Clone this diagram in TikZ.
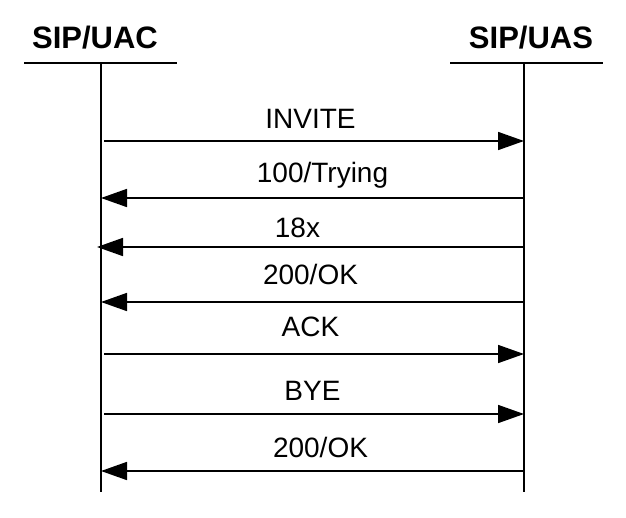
\documentclass[tikz,border=0pt]{standalone}
\usepackage{fontspec}
\setmainfont{Liberation Sans}
\usetikzlibrary{positioning,arrows.meta}

\begin{document}
\begin{tikzpicture}[x=1pt,y=-1pt,
		actor/.style={font=\fontsize{31}{34}\selectfont\bfseries, inner sep=0pt},
		lifeline/.style={line width=1.7pt},
		msg/.style={line width=1.7pt, -{Triangle[length=26pt,width=18pt]}},
		msglabel/.style={font=\fontsize{28}{30}\selectfont, midway, anchor=base, inner sep=0pt}
	]
	\useasboundingbox (0,0) rectangle (626,517);
	% parties
	\node[actor] (uac) at (95,38) {SIP/UAC};
	\node[actor] (uas) at (531,38) {SIP/UAS};
	\coordinate (uacbarl) at (24,63);
	\coordinate (uacbarr) at (177,63);
	\coordinate (uasbarl) at (450,63);
	\coordinate (uasbarr) at (603,63);
	\coordinate (uactop) at (101,63);
	\coordinate (uacbot) at (101,492);
	\coordinate (uastop) at (524,63);
	\coordinate (uasbot) at (524,492);
	\draw[lifeline] (uacbarl) -- (uacbarr);
	\draw[lifeline] (uasbarl) -- (uasbarr);
	\draw[lifeline] (uactop) -- (uacbot);
	\draw[lifeline] (uastop) -- (uasbot);
	% message rows
	\foreach \n/\y in {1/141,2/198,3/247,4/302,5/354,6/414,7/471}{
		\coordinate (l\n) at (101,\y);
		\coordinate (r\n) at (524,\y);
	}
	\draw[msg, shorten <=3pt] (l1) -- node[msglabel, yshift=13pt, xshift=-2pt] {INVITE} (r1);
	\draw[msg] (r2) -- node[msglabel, yshift=16pt, xshift=10pt] {100/Trying} (l2);
	\draw[msg, shorten >=-4pt] (r3) -- node[msglabel, yshift=10pt, xshift=-15pt] {18x} (l3);
	\draw[msg] (r4) -- node[msglabel, yshift=18pt, xshift=-2pt] {200/OK} (l4);
	\draw[msg, shorten <=3pt] (l5) -- node[msglabel, yshift=18pt, xshift=-2pt] {ACK} (r5);
	\draw[msg, shorten <=3pt] (l6) -- node[msglabel, yshift=14pt] {BYE} (r6);
	\draw[msg] (r7) -- node[msglabel, yshift=14pt, xshift=8pt] {200/OK} (l7);
\end{tikzpicture}
\end{document}
